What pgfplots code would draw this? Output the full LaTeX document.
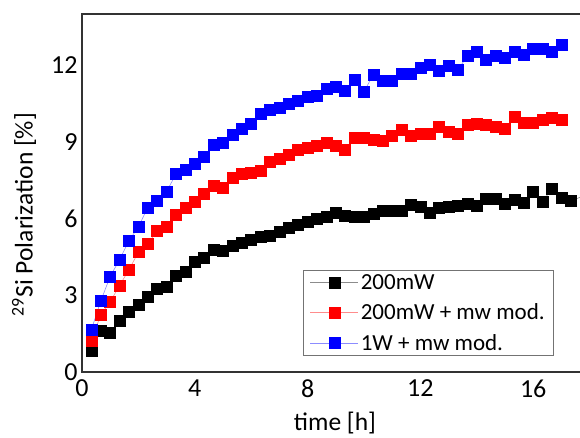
\documentclass[border=0pt]{standalone}
\usepackage{fontspec}
\setmainfont{Carlito}
\usepackage{pgfplots}
\pgfplotsset{compat=1.18}
\usepackage{pgfplotstable}
\pgfplotstableread{
t v
0.333 0.83
0.667 1.61
1.000 1.53
1.333 1.99
1.667 2.35
2.000 2.61
2.333 2.96
2.667 3.26
3.000 3.32
3.333 3.78
3.667 3.91
4.000 4.30
4.333 4.47
4.667 4.78
5.000 4.73
5.333 4.92
5.667 5.05
6.000 5.17
6.333 5.28
6.667 5.34
7.000 5.50
7.333 5.63
7.667 5.76
8.000 5.89
8.333 5.99
8.667 6.05
9.000 6.24
9.333 6.12
9.667 6.08
10.000 6.05
10.333 6.18
10.667 6.31
11.000 6.31
11.333 6.32
11.667 6.53
12.000 6.47
12.333 6.21
12.667 6.44
13.000 6.47
13.333 6.51
13.667 6.57
14.000 6.51
14.333 6.77
14.667 6.77
15.000 6.57
15.333 6.73
15.667 6.60
16.000 7.04
16.333 6.67
16.667 7.17
17.000 6.80
17.333 6.70
17.667 6.83
}\blackdata
\pgfplotstableread{
t v
0.333 1.21
0.667 2.25
1.000 2.74
1.333 3.39
1.667 4.00
2.000 4.69
2.333 5.01
2.667 5.53
3.000 5.69
3.333 6.16
3.667 6.44
4.000 6.66
4.333 6.96
4.667 7.28
5.000 7.22
5.333 7.61
5.667 7.74
6.000 7.80
6.333 7.87
6.667 8.23
7.000 8.32
7.333 8.49
7.667 8.68
8.000 8.78
8.333 8.84
8.667 8.97
9.000 8.84
9.333 8.68
9.667 9.17
10.000 9.17
10.333 9.10
10.667 9.04
11.000 9.23
11.333 9.46
11.667 9.23
12.000 9.30
12.333 9.32
12.667 9.58
13.000 9.40
13.333 9.32
13.667 9.66
14.000 9.71
14.333 9.66
14.667 9.58
15.000 9.53
15.333 9.97
15.667 9.75
16.000 9.75
16.333 9.88
16.667 9.95
17.000 9.86
}\reddata
\pgfplotstableread{
t v
0.333 1.66
0.667 2.78
1.000 3.74
1.333 4.39
1.667 5.14
2.000 5.67
2.333 6.44
2.667 6.70
3.000 7.06
3.333 7.74
3.667 7.92
4.000 8.15
4.333 8.43
4.667 8.88
5.000 8.97
5.333 9.26
5.667 9.53
6.000 9.71
6.333 10.10
6.667 10.27
7.000 10.34
7.333 10.49
7.667 10.62
8.000 10.76
8.333 10.82
8.667 11.09
9.000 11.14
9.333 10.99
9.667 11.44
10.000 10.96
10.333 11.64
10.667 11.40
11.000 11.40
11.333 11.65
11.667 11.66
12.000 11.89
12.333 12.02
12.667 11.76
13.000 11.98
13.333 11.83
13.667 12.35
14.000 12.52
14.333 12.22
14.667 12.38
15.000 12.28
15.333 12.52
15.667 12.41
16.000 12.65
16.333 12.65
16.667 12.52
17.000 12.78
}\bluedata
\begin{document}
\begin{tikzpicture}
\useasboundingbox (-82pt,-65pt) rectangle (498pt,372pt);
\begin{axis}[
  at={(0,0)}, anchor=south west,
  scale only axis, width=498pt, height=358pt,
  xmin=0, xmax=17.66, ymin=0, ymax=14,
  axis line style={draw=none},
  xtick={0,4,8,12,16}, ytick={0,3,6,9,12},
  major tick length=0pt,
  /pgf/number format/assume math mode=true,
  tick label style={font=\fontsize{26}{30}\selectfont},
  yticklabel style={xshift=-1pt},
  xticklabel style={yshift=-4pt},
  xlabel={time [h]},
  ylabel={\textsuperscript{29}Si Polarization [\%]},
  label style={font=\fontsize{25.5}{29}\selectfont},
  xlabel style={at={(axis description cs:0.508,-0.142)}, anchor=center},
  ylabel style={at={(axis description cs:-0.1165,0.44)}, anchor=center},
  legend style={at={(axis description cs:0.948,0.0447)}, anchor=south east,
    draw=black!55, line width=0.8pt, fill=white,
    font=\fontsize{23}{26}\selectfont, inner xsep=7pt, inner ysep=2pt,
    row sep=9pt},
  legend cell align=left,
  legend image code/.code={\draw[mark repeat=2,mark phase=2,#1] plot coordinates {(0pt,0pt) (24pt,0pt) (48pt,0pt)};},
  every axis plot/.append style={mark=square*, mark size=5.5pt, line width=0.6pt},
]
\addplot[color=black!45, mark options={fill=black, draw=black}] table[x=t,y=v] {\blackdata};
\addlegendentry{200mW}
\addplot[color=red!45, mark options={fill=red, draw=red}] table[x=t,y=v] {\reddata};
\addlegendentry{200mW + mw mod.}
\addplot[color=blue!45, mark options={fill=blue, draw=blue}] table[x=t,y=v] {\bluedata};
\addlegendentry{1W + mw mod.}
\end{axis}
\draw[line width=2pt, color=black!80] (510pt,358pt) -- (0pt,358pt) -- (0pt,0pt) -- (510pt,0pt);
\end{tikzpicture}
\end{document}
